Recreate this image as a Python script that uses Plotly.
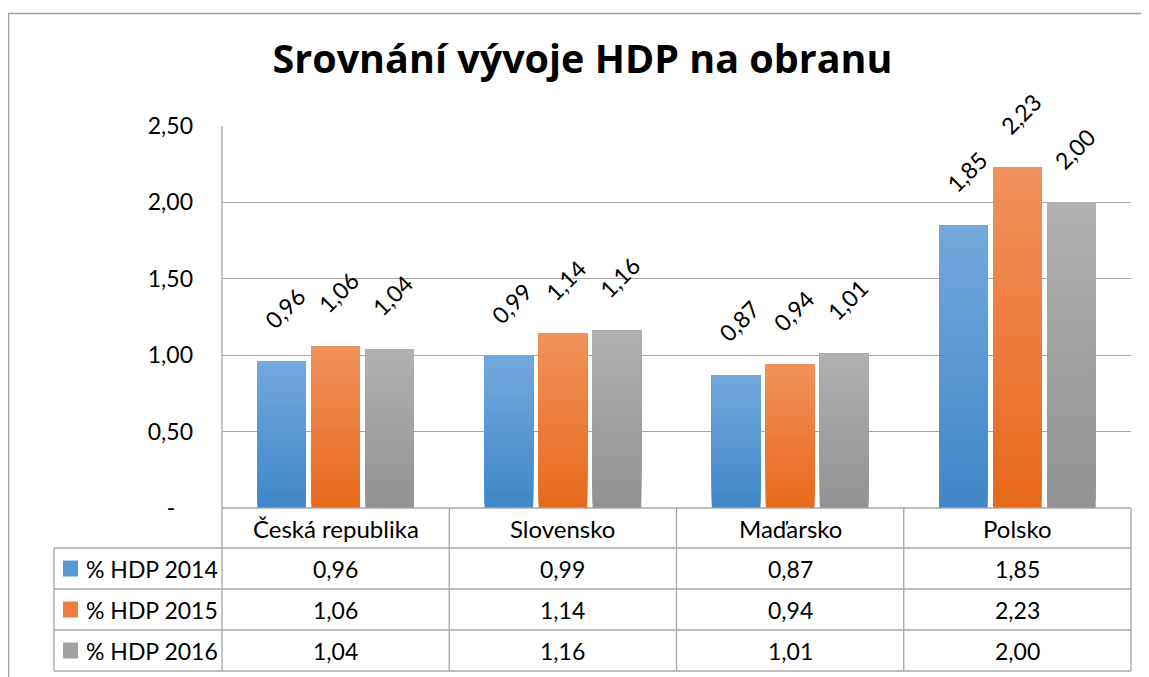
import plotly.graph_objects as go

categories = ["Česká republika", "Slovensko", "Maďarsko", "Polsko"]
series_names = ["% HDP 2014", "% HDP 2015", "% HDP 2016"]
hdp_2014 = [0.96, 0.99, 0.87, 1.85]
hdp_2015 = [1.06, 1.14, 0.94, 2.23]
hdp_2016 = [1.04, 1.16, 1.01, 2.00]
tick_vals = [0, 0.5, 1.0, 1.5, 2.0, 2.5]
tick_text = ["-\u00a0\u00a0\u00a0", "0,50", "1,00", "1,50", "2,00", "2,50"]
title_text = "Srovnání vývoje HDP na obranu"

series_values = [hdp_2014, hdp_2015, hdp_2016]
# gradient colours (bottom, top) per series
grad = [((0x3f, 0x86, 0xc8), (0x72, 0xa9, 0xdd)),
        ((0xe8, 0x68, 0x1c), (0xf1, 0x92, 0x5c)),
        ((0x92, 0x92, 0x92), (0xb1, 0xb1, 0xb1))]

FONT = "Lato"
PAGE_W, PAGE_H = 1149, 677
OFF = 8  # page body margin
W, H = PAGE_W - OFF, PAGE_H - OFF
L, R, T, B = 222, 1131, 126, 508  # plot area in page pixels
GRID = "#a6a6a6"
BARGAP = 0.287
BARGROUPGAP = 0.10
N = 40


def px(xp):
    return (xp - L) / (R - L)


def py(yp):
    return (B - yp) / (B - T)


def mix(c0, c1, t):
    return "rgb(%d,%d,%d)" % tuple(round(a + (b - a) * t) for a, b in zip(c0, c1))


def fmt(v):
    return f"{v:.2f}".replace(".", ",")


fig = go.Figure()
for s, vals in enumerate(series_values):
    c0, c1 = grad[s]
    for k in range(N):
        col = mix(c0, c1, (k + 0.5) / N)
        # each layer spans from its start up to the bar top; later layers cover earlier ones
        fig.add_trace(go.Bar(
            x=categories,
            y=[v * (N - k) / N for v in vals],
            base=[v * k / N for v in vals],
            offsetgroup=str(s),
            marker=dict(color=col, line=dict(width=0)),
            showlegend=False,
            hoverinfo="skip",
        ))

annotations = []
slot = (1 - BARGAP) / 3
for s, vals in enumerate(series_values):
    for i, v in enumerate(vals):
        annotations.append(dict(
            x=i + (s - 1) * slot, y=v, xref="x", yref="y",
            text=fmt(v), showarrow=False, textangle=-45,
            xanchor="center", yanchor="bottom", yshift=25, xshift=3,
            font=dict(family=FONT, size=23, color="black"),
        ))

# table rows (page pixel y)
header_top, header_bot = 508, 548
row_bounds = [548, 589, 630, 671]
table_left = 54

for i, c in enumerate(categories):
    annotations.append(dict(
        x=i, y=py((header_top + header_bot) / 2), xref="x", yref="paper",
        text=c, showarrow=False, xanchor="center", yanchor="middle",
        font=dict(family=FONT, size=24, color="black"),
    ))

shapes = []
for r, (name, vals) in enumerate(zip(series_names, series_values)):
    yc = (row_bounds[r] + row_bounds[r + 1]) / 2
    annotations.append(dict(
        x=px(84), y=py(yc), xref="paper", yref="paper",
        text=name, showarrow=False, xanchor="left", yanchor="middle",
        font=dict(family=FONT, size=23, color="black"),
    ))
    c0, c1 = grad[r]
    shapes.append(dict(type="rect", xref="paper", yref="paper",
                       x0=px(63), x1=px(78), y0=py(yc + 8), y1=py(yc - 8),
                       fillcolor=mix(c0, c1, 0.5), line=dict(width=0)))
    for i, v in enumerate(vals):
        annotations.append(dict(
            x=i, y=py(yc), xref="x", yref="paper",
            text=fmt(v), showarrow=False, xanchor="center", yanchor="middle",
            font=dict(family=FONT, size=23, color="black"),
        ))


def hline(y, x0, x1):
    shapes.append(dict(type="line", xref="paper", yref="paper",
                       x0=px(x0), x1=px(x1), y0=py(y), y1=py(y),
                       line=dict(color=GRID, width=1.3)))


def vline(x, y0, y1, xref="paper", xv=None):
    shapes.append(dict(type="line", xref=xref, yref="paper",
                       x0=xv if xv is not None else px(x), x1=xv if xv is not None else px(x),
                       y0=py(y0), y1=py(y1),
                       line=dict(color=GRID, width=1.3)))


hline(header_top, L, R)
for yb in row_bounds:
    hline(yb, table_left, R)
vline(table_left, row_bounds[0], row_bounds[-1])
vline(L, T, row_bounds[-1])
for i in range(len(categories) - 1):
    vline(None, header_top, row_bounds[-1], xref="x", xv=i + 0.5)
vline(R, header_top, row_bounds[-1])

# outer chart border
shapes.append(dict(type="rect", xref="paper", yref="paper",
                   x0=px(8.5), x1=px(1175), y0=py(13.5), y1=py(700),
                   line=dict(color="#a0a0a0", width=1.5), fillcolor="rgba(0,0,0,0)"))

fig.update_layout(
    width=W, height=H, autosize=False,
    margin=dict(l=L - OFF, r=PAGE_W - R, t=T - OFF, b=PAGE_H - B, pad=0),
    paper_bgcolor="white", plot_bgcolor="white",
    barmode="group", bargap=BARGAP, bargroupgap=BARGROUPGAP,
    showlegend=False,
    title=dict(text=title_text, x=(582.5 - OFF) / W, xanchor="center", xref="container",
               y=1 - (59 - OFF) / H, yanchor="middle", yref="container",
               font=dict(family="Open Sans", size=39.5, color="black", weight="bold")),
    annotations=annotations,
    shapes=shapes,
    font=dict(family=FONT, size=23, color="black"),
)
fig.update_xaxes(showticklabels=False, showgrid=False, zeroline=False, showline=False,
                 range=[-0.5, len(categories) - 0.5])
fig.update_yaxes(range=[0, 2.5], tickvals=tick_vals, ticktext=tick_text,
                 showgrid=True, gridcolor=GRID, gridwidth=1.3, zeroline=False,
                 showline=False, ticks="", ticklabelstandoff=28,
                 tickfont=dict(family=FONT, size=23, color="black"))

fig.write_html("out.html")
